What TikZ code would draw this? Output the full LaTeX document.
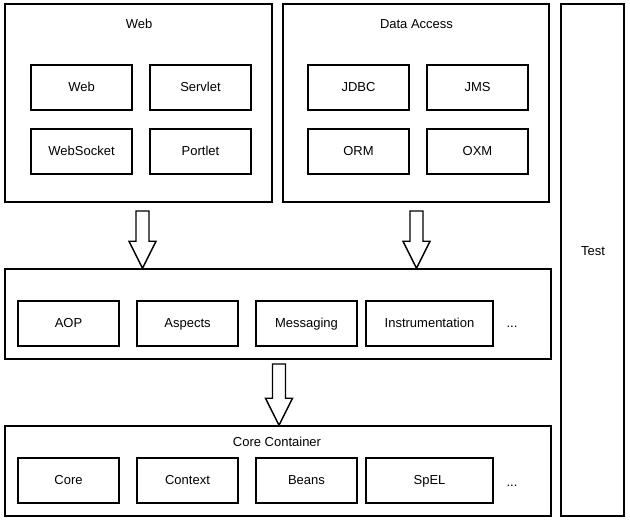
\documentclass[tikz,border=0pt]{standalone}
\usepackage{fontspec}
\setmainfont{Liberation Sans}
\usetikzlibrary{calc}

\tikzset{
  frame/.style={draw=black, line width=1.4pt, inner sep=0pt, fill=white},
  txt/.style={text height=10.5pt, text depth=1.5pt},
  group/.style={frame},
  module/.style={frame, txt, minimum width=101pt, minimum height=45pt},
  widemodule/.style={frame, txt, minimum width=127pt, minimum height=45pt},
  label/.style={txt, inner sep=0pt},
  hollowarrow/.style={draw=black, line width=1.4pt, fill=white, line join=miter},
}

% hollow block arrow from a top point #1 down to a tip #2
\newcommand\hollowdown[2]{%
  \draw[hollowarrow]
    ($(#1)+(-6.5,0)$) -- ($(#1)+(6.5,0)$) -- ($(#2)+(6.5,-27)$) --
    ($(#2)+(13.5,-27)$) -- (#2) -- ($(#2)+(-13.5,-27)$) --
    ($(#2)+(-6.5,-27)$) -- cycle;
}

\begin{document}
\begin{tikzpicture}[x=1pt, y=-1pt, font=\fontsize{13}{15}\selectfont]
  \useasboundingbox (0,0) rectangle (630,521);
  \fill[white] (0,0) rectangle (630,521);

  % top layer
  \node[group, minimum width=267pt, minimum height=198pt] (web) at (138.5,103) {};
  \node[label] (webtitle) at (139,24.5) {Web};
  \node[module] (webmod) at (81.5,87.5) {Web};
  \node[module] (servlet) at (200.5,87.5) {Servlet};
  \node[module] (websocket) at (81.5,151.5) {WebSocket};
  \node[module] (portlet) at (200.5,151.5) {Portlet};

  \node[group, minimum width=266pt, minimum height=198pt] (data) at (416,103) {};
  \node[label] (datatitle) at (416.5,24.5) {Data Access};
  \node[module] (jdbc) at (358.5,87.5) {JDBC};
  \node[module] (jms) at (477.5,87.5) {JMS};
  \node[module] (orm) at (358.5,151.5) {ORM};
  \node[module] (oxm) at (477.5,151.5) {OXM};

  % test column
  \node[group, minimum width=63pt, minimum height=512pt] (test) at (592.5,260) {};
  \node[label] (testtitle) at (593,251.5) {Test};

  % middle layer
  \node[group, minimum width=546pt, minimum height=90pt] (mid) at (278,314) {};
  \node[module] (aop) at (68.5,323.5) {AOP};
  \node[module] (aspects) at (187.5,323.5) {Aspects};
  \node[module] (messaging) at (306.5,323.5) {Messaging};
  \node[widemodule] (instr) at (429.5,323.5) {Instrumentation};
  \node[label] (middots) at (512,323.5) {...};

  % core container
  \node[group, minimum width=546pt, minimum height=90pt] (core) at (278,471) {};
  \node[label] (coretitle) at (277,442.5) {Core Container};
  \node[module] (coremod) at (68.5,480.5) {Core};
  \node[module] (context) at (187.5,480.5) {Context};
  \node[module] (beans) at (306.5,480.5) {Beans};
  \node[widemodule] (spel) at (429.5,480.5) {SpEL};
  \node[label] (coredots) at (512,482) {...};

  % layer arrows
  \coordinate (a1) at (142.5,211);
  \coordinate (t1) at (a1 |- mid.north);
  \hollowdown{a1}{t1}
  \coordinate (a2) at (416.5,211);
  \coordinate (t2) at (a2 |- mid.north);
  \hollowdown{a2}{t2}
  \coordinate (a3) at (279,364);
  \coordinate (t3) at (a3 |- core.north);
  \hollowdown{a3}{t3}
\end{tikzpicture}
\end{document}
